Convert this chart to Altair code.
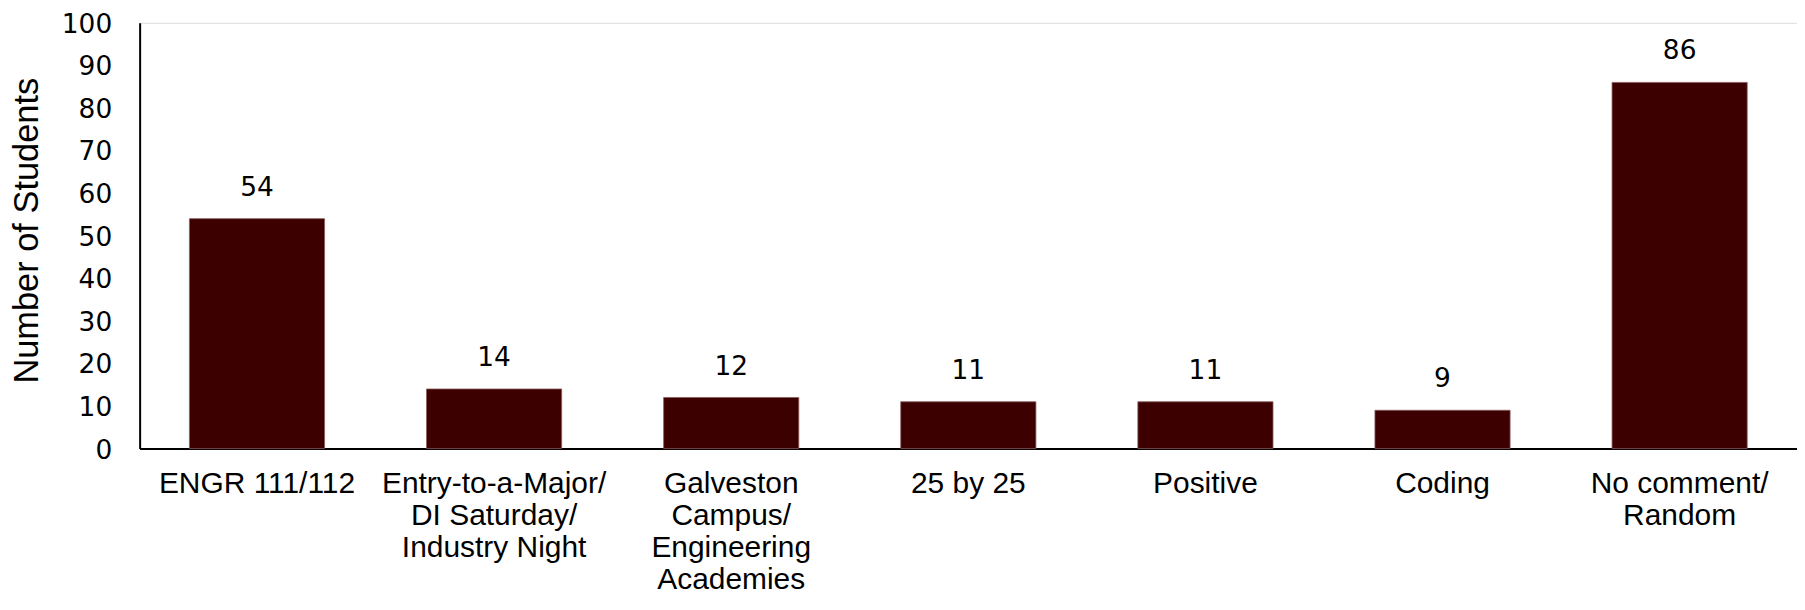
import altair as alt
import pandas as pd

categories = [
    "ENGR 111/112",
    "Entry-to-a-Major/\nDI Saturday/\nIndustry Night",
    "Galveston\nCampus/\nEngineering\nAcademies",
    "25 by 25",
    "Positive",
    "Coding",
    "No comment/\nRandom",
]
counts = [54, 14, 12, 11, 11, 9, 86]
y_ticks = [0, 10, 20, 30, 40, 50, 60, 70, 80, 90, 100]

df = pd.DataFrame({"category": categories, "count": counts})

FONT = "Liberation Sans"
NUM_FONT = "DejaVu Sans"

x = alt.X(
    "category:N",
    sort=categories,
    title=None,
    scale=alt.Scale(paddingInner=0.43, paddingOuter=0.21),
    axis=alt.Axis(
        labelAngle=0,
        labelAlign="center",
        labelBaseline="top",
        labelPadding=20,
        labelLineHeight=32,
        labelLimit=500,
        labelFontSize=30,
        labelFont=FONT,
        labelColor="#000000",
        labelExpr="split(datum.label, '\\n')",
        ticks=False,
        domainColor="#000000",
        domainWidth=2,
        grid=False,
    ),
)

y = alt.Y(
    "count:Q",
    title="Number of Students",
    scale=alt.Scale(domain=[0, 100], nice=False),
    axis=alt.Axis(
        values=y_ticks,
        ticks=False,
        grid=False,
        labelPadding=28,
        labelOffset=1.5,
        labelFontSize=26.5,
        labelFont=NUM_FONT,
        labelColor="#000000",
        domainColor="#000000",
        domainWidth=2,
        titleFont=FONT,
        titleFontSize=34.5,
        titleFontWeight="normal",
        titleColor="#000000",
        titleAngle=270,
        titleX=-112,
        titleY=208,
        titleAlign="center",
        titleBaseline="middle",
    ),
)

bars = alt.Chart(df).mark_bar(
    color="#3c0000", stroke="#8a5c5c", strokeWidth=0.8
).encode(x=x, y=y)

labels = alt.Chart(df).mark_text(
    font=NUM_FONT, fontSize=26.5, color="#000000", baseline="middle", dy=-31
).encode(x=alt.X("category:N", sort=categories), y="count:Q", text="count:Q")

chart = (
    alt.layer(bars, labels)
    .properties(
        width=1662,
        height=427,
        autosize=alt.AutoSizeParams(type="none"),
        padding={"left": 132, "top": 14, "right": 0, "bottom": 149},
    )
    .configure_view(stroke=None)
    .configure(background="#ffffff")
)

chart.save("out.html", embed_options={"renderer": "svg", "actions": False})
